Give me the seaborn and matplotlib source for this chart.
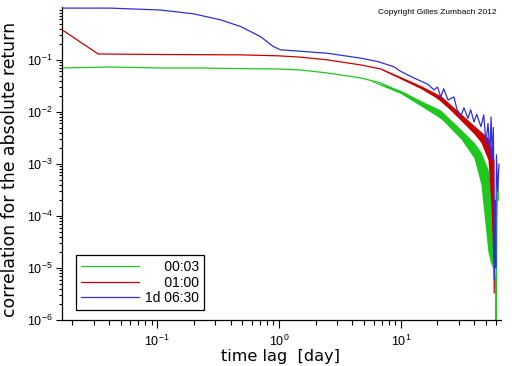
import matplotlib
matplotlib.use("Agg")
import matplotlib.pyplot as plt
import matplotlib.ticker as mticker
import seaborn as sns

# time lag in days, correlation of |r| for three sampling intervals
green_lag = [0.0165, 0.041, 0.106, 0.226, 0.482, 0.972, 1.5, 2.51, 4.69, 6.84,
             10.0, 14.6, 18.7, 24.4, 31.2, 35.6, 39.9, 45.5, 52.0, 55.1, 58.2,
             60.5, 60.6, 61.5, 62.5, 63.5]
green_corr = [0.070, 0.073, 0.070, 0.070, 0.068, 0.067, 0.064, 0.056, 0.045, 0.036,
              0.0243, 0.0149, 0.0096, 0.0061, 0.0036, 0.0025, 0.0016, 6e-4, 1.2e-4, 4e-5, 1.5e-5,
              3e-6, 5e-7, 8e-5, 5e-4, 2e-4]

red_lag = [0.0165, 0.0327, 0.106, 0.482, 0.972, 1.5, 2.51, 4.69, 6.84, 10.0,
           14.6, 18.7, 24.4, 31.2, 39.9, 45.5, 52.0, 55.1, 57.0, 58.2, 58.5]
red_corr = [0.38, 0.130, 0.127, 0.125, 0.120, 0.113, 0.100, 0.080, 0.067, 0.045,
            0.030, 0.0212, 0.0125, 0.0077, 0.0045, 0.0033, 0.0021, 1.0e-3, 4e-4, 1e-4, 3.3e-6]

blue_lag = [0.0165, 0.041, 0.106, 0.198, 0.330, 0.482, 0.705, 0.90, 1.03, 1.32,
            2.51, 4.69, 6.47, 8.75, 10.0, 12.8, 16.7, 18.7, 20.0, 21.3, 22.5, 24.4,
            27.3, 29.0, 31.2, 33.0, 35.6, 37.5, 39.9, 42.0, 45.5, 48.0, 50.0, 52.0,
            54.0, 55.1, 56.5, 57.5, 58.2, 58.8, 59.5, 60.2, 61.0, 62.5, 64.0]
blue_corr = [0.99, 0.99, 0.91, 0.77, 0.59, 0.44, 0.28, 0.18, 0.156, 0.15,
             0.134, 0.108, 0.093, 0.074, 0.060, 0.045, 0.034, 0.0265, 0.030, 0.0194, 0.028, 0.017,
             0.0194, 0.011, 0.0085, 0.012, 0.0075, 0.011, 0.0064, 0.009, 0.0052, 0.0088, 0.0025, 0.006,
             0.0015, 0.008, 0.0012, 0.005, 3e-4, 6e-6, 2e-4, 1e-5, 1.5e-3, 3e-4, 1e-3]

# spread of the noisy tails
green_band_lag = [5.66, 10.0, 14.6, 21.3, 31.2, 39.9, 45.5, 52.0, 56.0, 58.5]
green_band_hi = [0.040, 0.026, 0.0165, 0.0108, 0.0046, 0.0026, 0.0017, 8e-4, 3e-4, 1e-4]
green_band_lo = [0.039, 0.0225, 0.0130, 0.0075, 0.0030, 0.0013, 4e-4, 2e-5, 1e-5, 3e-5]

red_band_lag = [6.84, 10.0, 14.6, 21.3, 31.2, 39.9, 45.5, 52.0, 55.1, 58.2]
red_band_hi = [0.068, 0.047, 0.032, 0.0205, 0.0092, 0.0055, 0.0042, 0.0032, 0.0022, 0.0012]
red_band_lo = [0.066, 0.043, 0.028, 0.0165, 0.0068, 0.0038, 0.0026, 0.0012, 1.5e-4, 3.3e-6]

labels = ["\u2007\u2007\u200800:03", "\u2007\u2007\u200801:00", "1d 06:30"]
colors = ["#1fc81f", "#c80000", "#2f2fe0"]

sns.set_style("ticks")
plt.rcParams["font.family"] = ["Liberation Sans", "DejaVu Sans"]
plt.rcParams["mathtext.fontset"] = "custom"
plt.rcParams["mathtext.rm"] = "Liberation Sans"
for key in ("text.color", "axes.labelcolor", "xtick.color", "ytick.color"):
    plt.rcParams[key] = "black"

fig = plt.figure(figsize=(5.12, 3.66), dpi=100)
ax = fig.add_axes([62 / 512, 46 / 366, 439 / 512, 313 / 366])

ax.fill_between(green_band_lag, green_band_lo, green_band_hi, color=colors[0], lw=0, zorder=2)
sns.lineplot(x=green_lag, y=green_corr, ax=ax, color=colors[0], lw=0.9,
             estimator=None, sort=False, label=labels[0], zorder=2)
ax.fill_between(red_band_lag, red_band_lo, red_band_hi, color=colors[1], lw=0, zorder=3)
sns.lineplot(x=red_lag, y=red_corr, ax=ax, color=colors[1], lw=0.9,
             estimator=None, sort=False, label=labels[1], zorder=3)
sns.lineplot(x=blue_lag, y=blue_corr, ax=ax, color=colors[2], lw=0.9,
             estimator=None, sort=False, label=labels[2], zorder=4)

ax.set_xscale("log")
ax.set_yscale("log")
ax.set_xlim(0.0165, 66.5)
ax.set_ylim(1e-6, 1.04)

ax.yaxis.set_major_locator(mticker.FixedLocator([1e-6, 1e-5, 1e-4, 1e-3, 1e-2, 1e-1]))
ax.xaxis.set_major_locator(mticker.FixedLocator([0.1, 1, 10]))
for axis in (ax.xaxis, ax.yaxis):
    axis.set_major_formatter(mticker.LogFormatterSciNotation())
    axis.set_minor_locator(mticker.LogLocator(base=10, subs=range(2, 10), numticks=100))
    axis.set_minor_formatter(mticker.NullFormatter())
ax.tick_params(which="both", labelsize=9, color="black", labelcolor="black", width=0.8)
ax.tick_params(axis="x", which="major", length=6, pad=4)
ax.tick_params(axis="x", which="minor", length=3.5)
ax.tick_params(axis="y", which="major", length=4.5, pad=2)
ax.tick_params(axis="y", which="minor", length=2.5)

sns.despine(ax=ax)
for s in ("left", "bottom"):
    ax.spines[s].set_color("black")
    ax.spines[s].set_linewidth(0.9)

ax.set_xlabel("time lag  [day]", fontsize=11.6, va="top", family="DejaVu Sans", color="black")
ax.xaxis.set_label_coords(0.497, -0.093)
ax.set_ylabel("correlation for the absolute return", fontsize=12.4, family="DejaVu Sans", color="black")
ax.yaxis.set_label_coords(-0.098, 0.48)

leg = ax.legend(loc="lower left", bbox_to_anchor=(0.032, 0.032), borderaxespad=0,
                fontsize=10, handlelength=4.2, handletextpad=0.45, labelspacing=0.1,
                borderpad=0.35, fancybox=False, framealpha=1, edgecolor="black", labelcolor="black")
leg.get_frame().set_linewidth(0.9)
for line in leg.get_lines():
    line.set_linewidth(0.9)

fig.text(378 / 512, 1 - 13 / 366, "Copyright Gilles Zumbach 2012", fontsize=6, ha="left", va="center", color="black")

fig.savefig("out.png", dpi=100)
